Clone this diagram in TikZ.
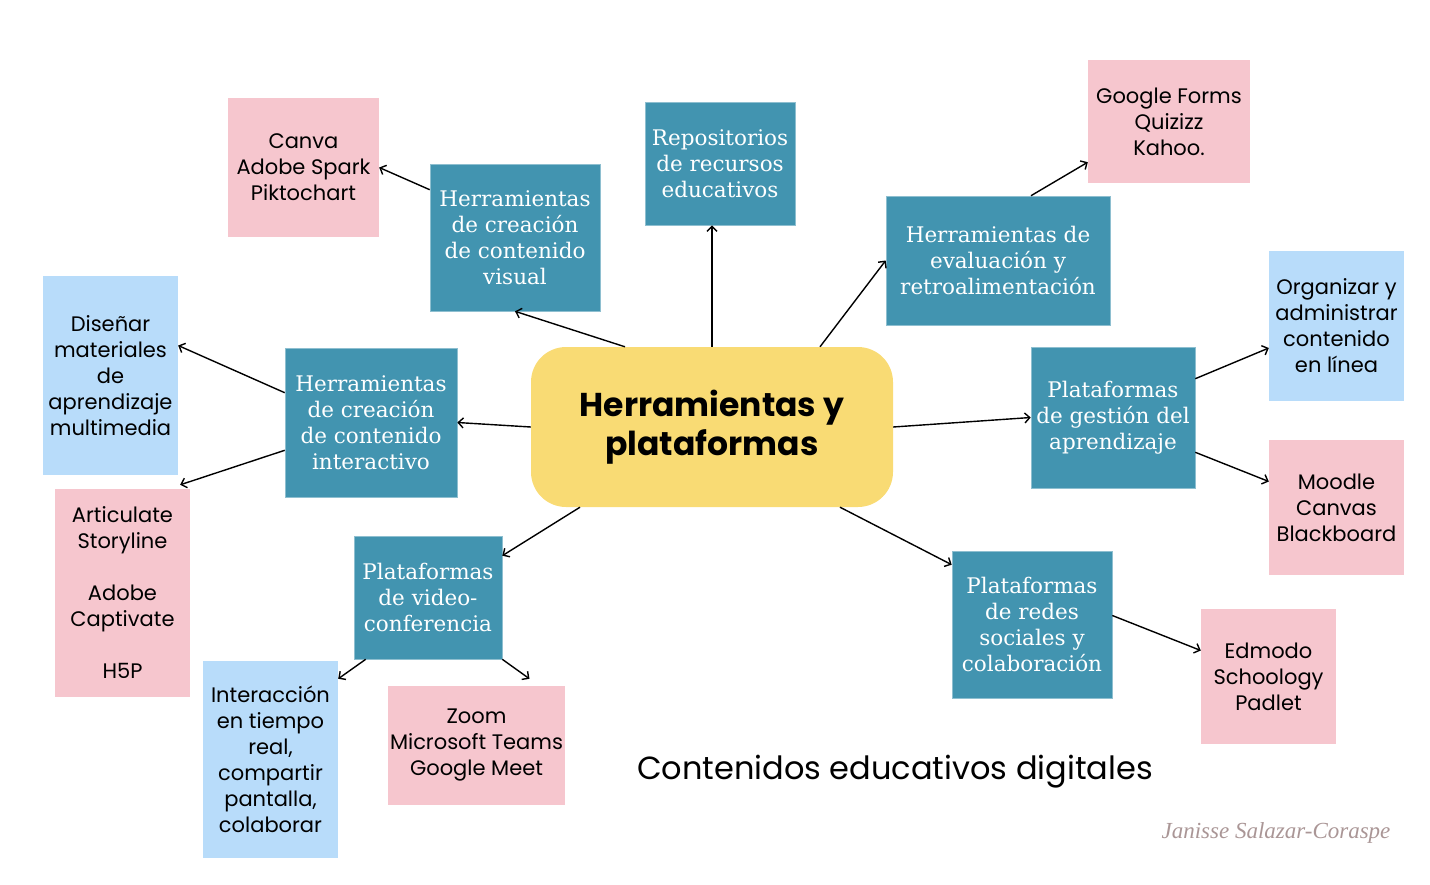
\documentclass[tikz,border=0pt]{standalone}
\usepackage{fontspec}
\usepackage{tikz}
\usetikzlibrary{positioning,arrows.meta}
\newfontfamily\boxfont{DejaVu Serif}
\newfontfamily\listfont{Poppins}
\newfontfamily\signfont{Liberation Serif}
\definecolor{tealbox}{RGB}{66,148,176}
\definecolor{pinkbox}{RGB}{246,198,206}
\definecolor{skybox}{RGB}{184,220,250}
\definecolor{hubyellow}{RGB}{249,219,116}
\definecolor{signgray}{RGB}{170,150,150}

\begin{document}
\begin{tikzpicture}[x=1pt,y=-1pt,
  tealnode/.style={fill=tealbox,draw=tealbox!60!white,line width=0.6pt,text=white,align=center,inner sep=2pt,
    font=\boxfont\fontsize{21.5}{26}\selectfont},
  pinknode/.style={fill=pinkbox,align=center,inner sep=2pt,font=\listfont\fontsize{21}{26}\selectfont},
  skynode/.style={fill=skybox,align=center,inner sep=2pt,font=\listfont\fontsize{21}{26}\selectfont},
  link/.style={-{Straight Barb[length=5pt,width=10pt]},line width=1.4pt}]
\useasboundingbox (0,0) rectangle (1430,884);
\node[fill=hubyellow,rounded corners=35pt,minimum width=362,minimum height=160,align=center,
  font=\listfont\bfseries\fontsize{33}{39}\selectfont] (hub) at (712,427) {Herramientas y\\plataformas};
\node[tealnode,minimum width=150,minimum height=123] (repo) at (720,163.5) {Repositorios\\de recursos\\educativos};
\node[tealnode,minimum width=170,minimum height=147] (visual) at (515,237.5) {Herramientas\\de creación\\de contenido\\visual};
\node[pinknode,minimum width=151,minimum height=139] (canva) at (303.5,167.5) {Canva\\Adobe Spark\\Piktochart};
\node[tealnode,minimum width=224,minimum height=129] (eval) at (998,260.5) {Herramientas de\\evaluación y\\retroalimentación};
\node[pinknode,minimum width=162,minimum height=123] (forms) at (1169,121.5) {Google Forms\\Quizizz\\Kahoo.};
\node[tealnode,minimum width=172,minimum height=149] (inter) at (371,422.5) {Herramientas\\de creación\\de contenido\\interactivo};
\node[skynode,minimum width=135,minimum height=199] (disenar) at (110.5,375.5) {Diseñar\\materiales\\de\\aprendizaje\\multimedia};
\node[pinknode,minimum width=135,minimum height=208] (artic) at (122.5,593) {Articulate\\Storyline\\[26pt]Adobe\\Captivate\\[26pt]H5P};
\node[tealnode,minimum width=148,minimum height=123] (video) at (428,597.5) {Plataformas\\de video-\\conferencia};
\node[skynode,minimum width=135,minimum height=197] (tiempo) at (270.5,759.5) {Interacción\\en tiempo\\real,\\compartir\\pantalla,\\colaborar};
\node[pinknode,minimum width=177,minimum height=119] (zoom) at (476.5,745.5) {Zoom\\Microsoft Teams\\Google Meet};
\node[tealnode,minimum width=164,minimum height=141] (lms) at (1113,417.5) {Plataformas\\de gestión del\\aprendizaje};
\node[skynode,minimum width=135,minimum height=150] (org) at (1336.5,326) {Organizar y\\administrar\\contenido\\en línea};
\node[pinknode,minimum width=135,minimum height=135] (moodle) at (1336.5,507.5) {Moodle\\Canvas\\Blackboard};
\node[tealnode,minimum width=160,minimum height=147] (redes) at (1032,624.5) {Plataformas\\de redes\\sociales y\\colaboración};
\node[pinknode,minimum width=135,minimum height=135] (edmodo) at (1268.5,676.5) {Edmodo\\Schoology\\Padlet};
\node[font=\listfont\fontsize{32}{38}\selectfont] (title) at (895,772) {Contenidos educativos digitales};
\node[font=\signfont\itshape\fontsize{23}{26}\selectfont,text=signgray] (sign) at (1276,833) {Janisse Salazar-Coraspe};
\draw[link] (hub.north) -- (hub.north |- repo.south);
\draw[link] ([xshift=-87pt]hub.north) -- (visual.south);
\draw[link] ([yshift=-26pt]visual.north west) -- (canva.east);
\draw[link] ([xshift=108pt]hub.north) -- (eval.west);
\draw[link] ([xshift=33pt]eval.north) -- ([yshift=21pt]forms.south west);
\draw[link] (hub.west) -- (inter.east);
\draw[link] ([yshift=-45pt]inter.north west) -- ([yshift=30pt]disenar.east);
\draw[link] ([yshift=47pt]inter.south west) -- ([xshift=-10pt,yshift=4pt]artic.north east);
\draw[link] ([xshift=-132pt]hub.south) -- ([yshift=-20pt]video.north east);
\draw[link] ([xshift=12pt]video.south west) -- ([yshift=-18pt]tiempo.north east);
\draw[link] (video.south east) -- ([xshift=53pt,yshift=7pt]zoom.north);
\draw[link] (hub.east) -- (lms.west);
\draw[link] ([yshift=-32pt]lms.north east) -- ([yshift=-22pt]org.west);
\draw[link] ([yshift=36pt]lms.south east) -- ([yshift=26pt]moodle.west);
\draw[link] ([xshift=128pt]hub.south) -- ([yshift=-14pt]redes.north west);
\draw[link] ([yshift=9pt]redes.east) -- ([yshift=26pt]edmodo.west);
\end{tikzpicture}
\end{document}
